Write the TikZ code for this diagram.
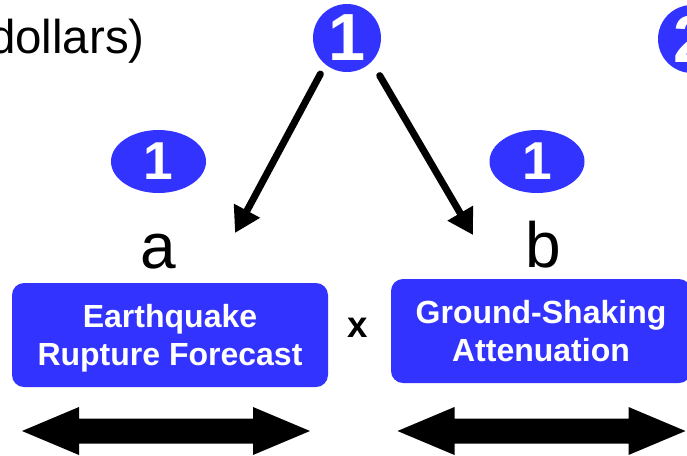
\documentclass[tikz,border=0pt]{standalone}
\usepackage{fontspec}
\setmainfont{Liberation Sans}
\usepackage{tikz}
\usetikzlibrary{arrows.meta,shapes.geometric}

\definecolor{stepblue}{RGB}{51,51,255}

\begin{document}
\begin{tikzpicture}[
    x=0.75pt, y=-0.75pt,
    badge/.style={circle, fill=stepblue, text=white, inner sep=0pt, minimum size=51pt, font=\fontsize{50}{50}\selectfont\bfseries},
    oval/.style={ellipse, fill=stepblue, text=white, inner sep=0pt, minimum width=71.25pt, minimum height=47.25pt, font=\fontsize{40}{40}\selectfont\bfseries},
    factor/.style={anchor=base, inner sep=0pt, font=\fontsize{48}{48}\selectfont},
    block/.style={rectangle, rounded corners=9pt, fill=stepblue, text=white, align=center, inner sep=0pt, minimum height=78pt, text depth=0pt, font=\fontsize{24}{28.5}\selectfont\bfseries},
    pointer/.style={-{Triangle[length=19pt,width=21pt]}, line width=5.25pt, line cap=round}
]

\useasboundingbox (0,0) rectangle (687,455);

% heading (cut off at the left edge)
\node[anchor=base east, inner sep=0pt, font=\fontsize{35.6}{40}\selectfont] (unit) at (145,53) {dollars)};

% numbered markers
\node[badge] (top) at (347,38) {1};
\node[badge] (next) at (692,39) {2};
\node[oval] (ovalA) at (158.5,161.5) {1};
\node[oval] (ovalB) at (537,161.5) {1};

% the two factors
\node[factor] (labA) at (158,268) {a};
\node[factor] (labB) at (543,267) {b};

\node[block, minimum width=237pt] (erf) at (170,335) {Earthquake\\Rupture Forecast};
\node[block, minimum width=225pt] (atten) at (541,331) {Ground-Shaking\\Attenuation};
\node[inner sep=0pt, font=\fontsize{27.5}{28}\selectfont\bfseries] (times) at (357.5,327.5) {x};

% arrows from the top marker
\coordinate (tipA) at (235,233);
\coordinate (tipB) at (473,235);
\draw[pointer, shorten <=8pt] (top.231) -- (tipA);
\draw[pointer, shorten <=12pt] (top.316) -- (tipB);

% fat double arrows under the blocks
\foreach \cx in {166,541.5}
    \fill (\cx-144,431) -- ++(57,-24) -- ++(0,11.5) -- ++(174,0) -- ++(0,-11.5)
        -- ++(57,24) -- ++(-57,24) -- ++(0,-11.5) -- ++(-174,0) -- ++(0,11.5) -- cycle;

\end{tikzpicture}
\end{document}
